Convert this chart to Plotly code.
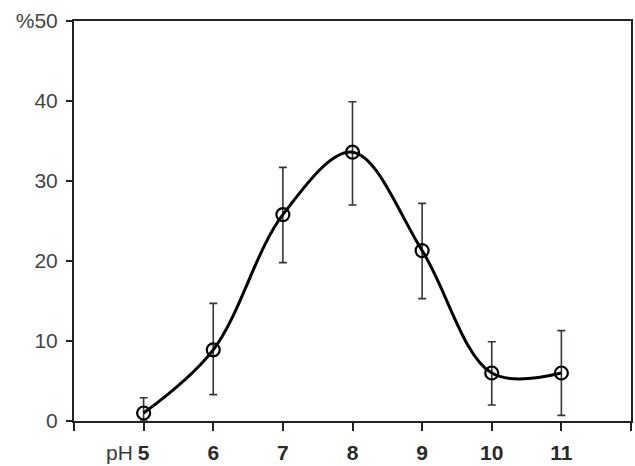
import plotly.graph_objects as go

ph = [5, 6, 7, 8, 9, 10, 11]
values = [1.0, 8.9, 25.8, 33.6, 21.3, 6.0, 6.0]
err_plus = [1.9, 5.8, 5.9, 6.3, 5.9, 3.9, 5.3]
err_minus = [1.0, 5.6, 6.0, 6.6, 6.0, 4.0, 5.3]

x_tickvals = [4, 5, 6, 7, 8, 9, 10, 11, 12]
x_ticktext = ["", "5", "6", "7", "8", "9", "10", "11", ""]
y_tickvals = [0, 10, 20, 30, 40, 50]
y_ticktext = ["0", "10", "20", "30", "40", "%50"]

fig = go.Figure()
fig.add_trace(go.Scatter(
    x=ph, y=values,
    mode="lines+markers",
    line=dict(color="black", width=3, shape="spline", smoothing=1.0),
    marker=dict(symbol="circle-open", size=13, color="black", line=dict(width=2.2, color="black")),
    error_y=dict(type="data", array=err_plus, arrayminus=err_minus, visible=True,
                 color="#3d3333", thickness=1.6, width=4),
    showlegend=False,
))

fig.add_annotation(x=4.66, y=0, xref="x", yref="paper", text="pH", showarrow=False,
                   yanchor="middle", yshift=-31,
                   font=dict(family="Liberation Sans, Arial", size=21, color="#3a3a3a"))

fig.update_layout(
    width=635, height=466,
    margin=dict(l=74, r=2, t=21, b=43),
    plot_bgcolor="white", paper_bgcolor="white",
    xaxis=dict(range=[4, 12], tickvals=x_tickvals, ticktext=x_ticktext,
               showgrid=False, zeroline=False, showline=True, linecolor="#222", linewidth=2,
               mirror=True, ticks="outside", ticklen=8, tickwidth=2, tickcolor="#222",
               ticklabelstandoff=4,
               tickfont=dict(family="Liberation Sans, Arial", size=21, color="#2a2a2a", weight="bold")),
    yaxis=dict(range=[0, 50], tickvals=y_tickvals, ticktext=y_ticktext,
               showgrid=False, zeroline=False, showline=True, linecolor="#222", linewidth=2,
               mirror=True, ticks="outside", ticklen=6, tickwidth=2, tickcolor="#222",
               ticklabelstandoff=4,
               tickfont=dict(family="Liberation Sans, Arial", size=21, color="#444")),
)

fig.write_html("out.html")
